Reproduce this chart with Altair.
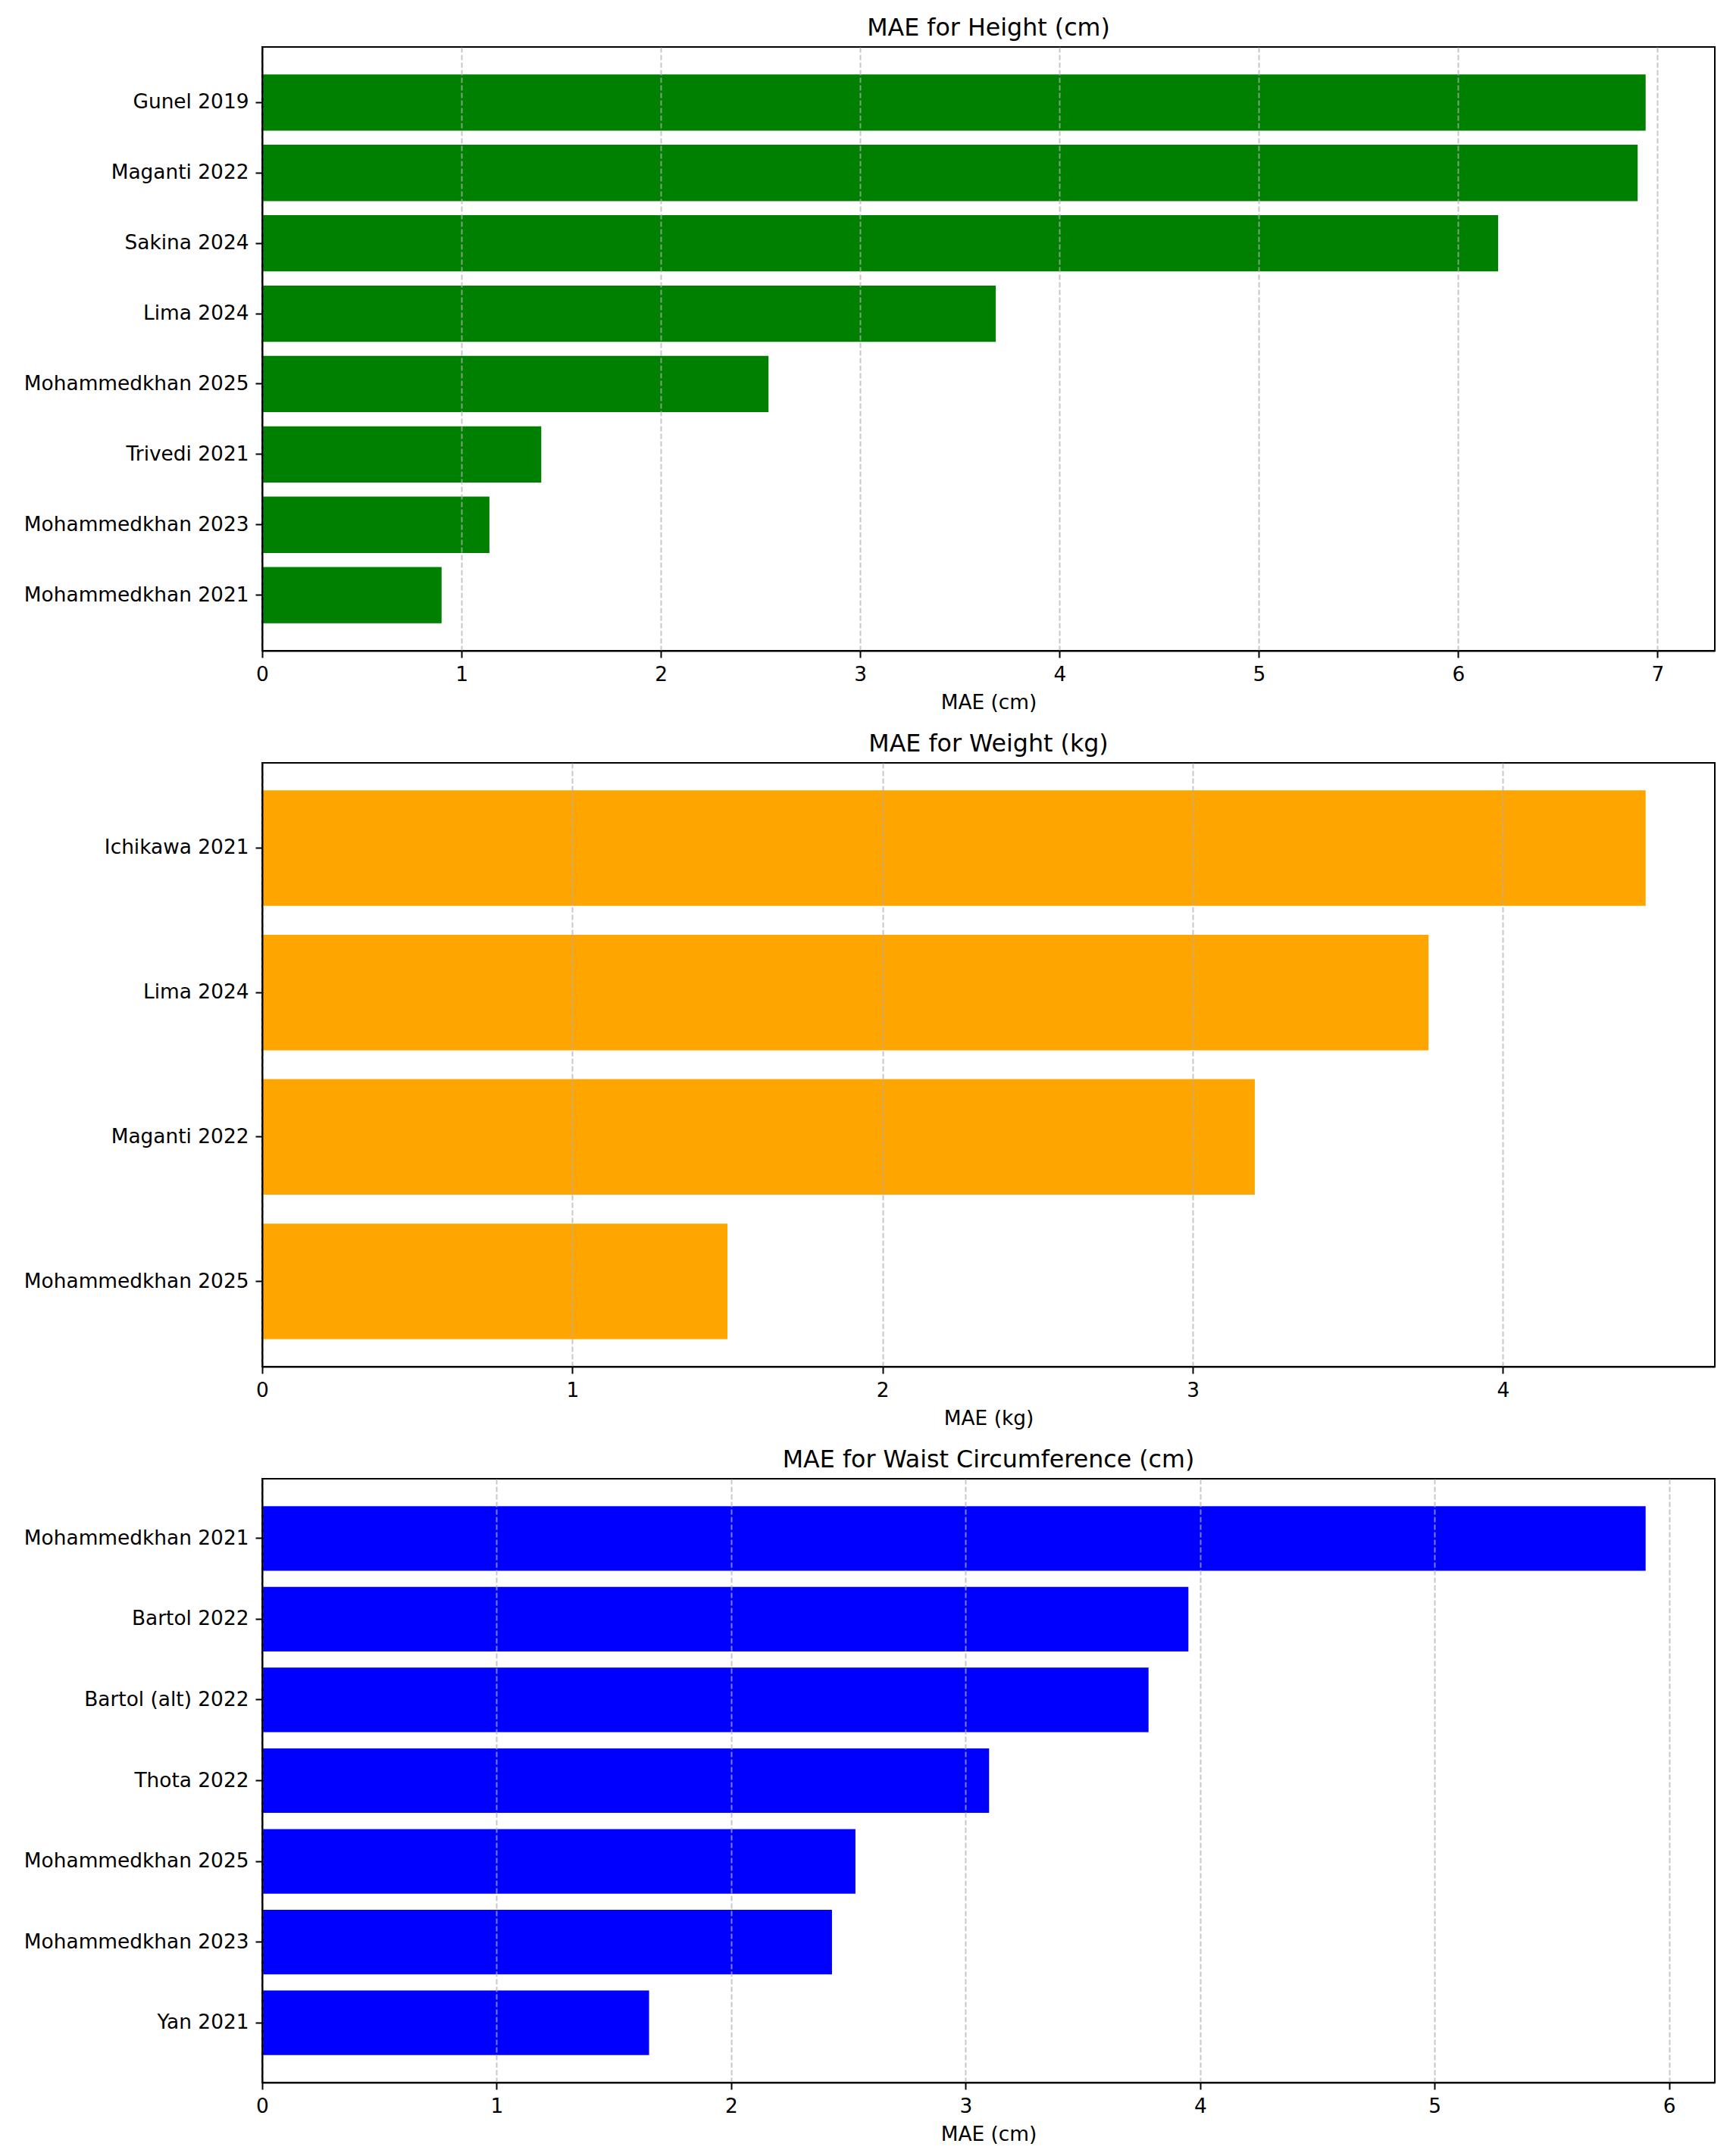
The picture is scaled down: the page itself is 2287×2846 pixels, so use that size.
import altair as alt
import pandas as pd

# Data (top-to-bottom order as displayed)
height_studies = ["Gunel 2019", "Maganti 2022", "Sakina 2024", "Lima 2024",
                  "Mohammedkhan 2025", "Trivedi 2021", "Mohammedkhan 2023", "Mohammedkhan 2021"]
height_mae = [6.94, 6.90, 6.20, 3.68, 2.54, 1.40, 1.14, 0.90]

weight_studies = ["Ichikawa 2021", "Lima 2024", "Maganti 2022", "Mohammedkhan 2025"]
weight_mae = [4.46, 3.76, 3.20, 1.50]

waist_studies = ["Mohammedkhan 2021", "Bartol 2022", "Bartol (alt) 2022", "Thota 2022",
                 "Mohammedkhan 2025", "Mohammedkhan 2023", "Yan 2021"]
waist_mae = [5.90, 3.95, 3.78, 3.10, 2.53, 2.43, 1.65]

PANEL_W = 1917
PANEL_H = 797


def panel(studies, maes, color, title, xtitle):
    df = pd.DataFrame({"study": studies, "mae": maes})
    xmax = max(maes) * 1.05
    ticks = list(range(0, int(xmax) + 1))
    n = len(studies)
    return alt.Chart(df).mark_bar(color=color).encode(
        x=alt.X(
            "mae:Q",
            scale=alt.Scale(domain=[0, xmax], nice=False, zero=True),
            axis=alt.Axis(
                values=ticks, format="d", title=xtitle, grid=True,
                gridDash=[7, 3], gridColor="#b0b0b0", gridOpacity=0.7, gridWidth=2,
                zindex=1, titlePadding=11, labelFlush=False,
            ),
        ),
        y=alt.Y(
            "study:N",
            sort=studies,
            scale=alt.Scale(paddingInner=0.2, paddingOuter=0.05 * (n - 0.2)),
            axis=alt.Axis(title=None, grid=False, zindex=2, labelLimit=0),
        ),
    ).properties(
        width=PANEL_W,
        height=PANEL_H,
        title=alt.TitleParams(title, fontSize=31.7, fontWeight="normal", anchor="middle",
                              frame="group", offset=8, color="black"),
    )


c1 = panel(height_studies, height_mae, "#008000", "MAE for Height (cm)", "MAE (cm)")
c2 = panel(weight_studies, weight_mae, "#FFA500", "MAE for Weight (kg)", "MAE (kg)")
c3 = panel(waist_studies, waist_mae, "#0000FF", "MAE for Waist Circumference (cm)", "MAE (cm)")

chart = alt.vconcat(c1, c2, c3, spacing=24).resolve_scale(
    x="independent", y="independent"
).properties(
    padding={"left": 22, "top": 13, "right": 10, "bottom": 5},
    background="white",
).configure(
    font="DejaVu Sans",
).configure_view(
    stroke="black", strokeWidth=2,
).configure_axis(
    labelFont="DejaVu Sans", titleFont="DejaVu Sans",
    labelFontSize=26.4, titleFontSize=26.4,
    labelColor="black", titleColor="black", titleFontWeight="normal",
    domainColor="black", domainWidth=2,
    tickColor="black", tickWidth=2, tickSize=9, labelPadding=9,
)

chart.save("out.html", embed_options={"renderer": "svg", "actions": False})
